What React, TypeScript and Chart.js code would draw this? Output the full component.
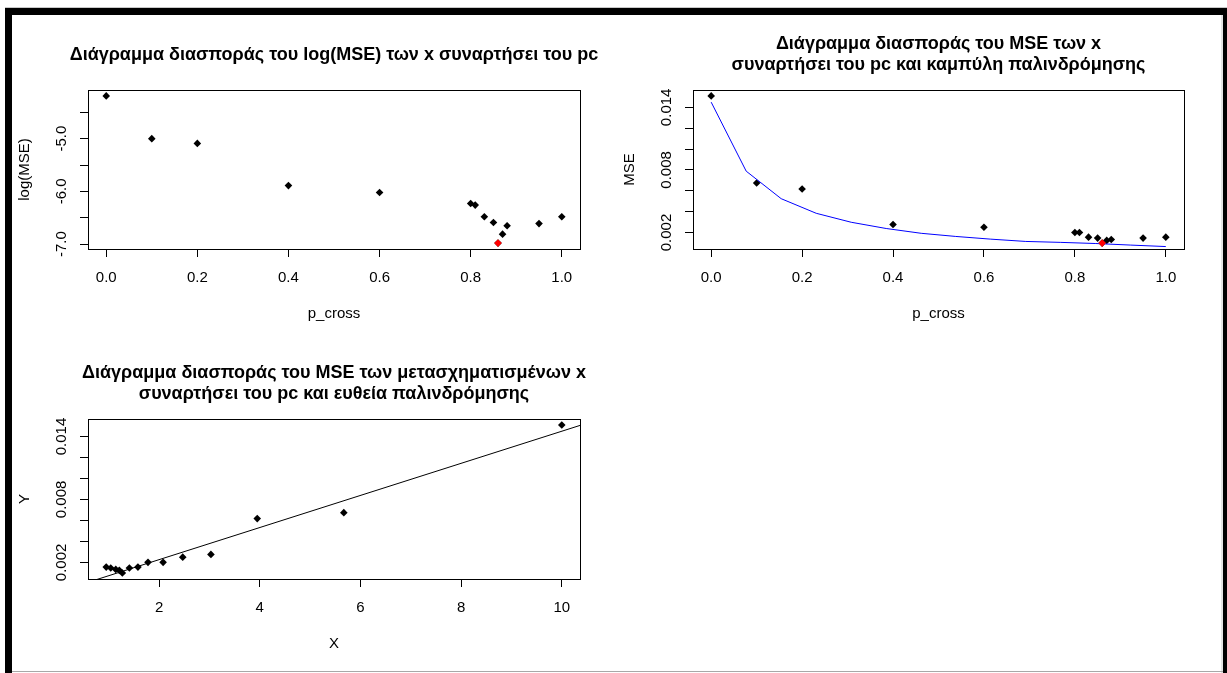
import React, { useEffect, useRef } from "react";
import { Chart, registerables } from "chart.js";

Chart.register(...registerables);

// crossover probabilities that were tried
const pCross = [0, 0.1, 0.2, 0.4, 0.6, 0.8, 0.81, 0.83, 0.85, 0.86, 0.87, 0.88, 0.95, 1.0];
// log(MSE) for each p_cross
const logMse = [-4.19, -5.0, -5.09, -5.89, -6.02, -6.23, -6.26, -6.48, -6.59, -6.98, -6.81, -6.65, -6.61, -6.48];
// MSE for each p_cross
const mse = [0.0151, 0.00674, 0.00617, 0.00276, 0.0025, 0.002, 0.002, 0.00155, 0.00146, 0.00098, 0.00124, 0.00133, 0.00146, 0.00155];
// transformed predictor X for each p_cross
const xTrans = [10, 5.67, 3.95, 3.03, 2.47, 2.08, 1.78, 1.58, 1.41, 1.27, 1.21, 1.14, 1.04, 0.95];
// fitted values of the regression, laid out on an even grid of p_cross
const curveGrid = [0, 0.077, 0.154, 0.231, 0.308, 0.385, 0.462, 0.538, 0.615, 0.692, 0.769, 0.846, 0.923, 1.0];
const curveFit = [0.0145, 0.00788, 0.00524, 0.00384, 0.00298, 0.00238, 0.00192, 0.00162, 0.00136, 0.00114, 0.00105, 0.00094, 0.00079, 0.00065];
// regression line Y = a + b X
const regIntercept = -0.0008;
const regSlope = 0.00153;

// axis ticks and their labels (empty = tick mark only)
const pTicks = [0, 0.2, 0.4, 0.6, 0.8, 1.0];
const pTickLabels = ["0.0", "0.2", "0.4", "0.6", "0.8", "1.0"];
const logTicks = [-7, -6.5, -6, -5.5, -5, -4.5];
const logTickLabels = ["-7.0", "", "-6.0", "", "-5.0", ""];
const mseTicks = [0.002, 0.004, 0.006, 0.008, 0.01, 0.012, 0.014];
const mseTickLabels = ["0.002", "", "", "0.008", "", "", "0.014"];
const xTicks = [2, 4, 6, 8, 10];
const xTickLabels = ["2", "4", "6", "8", "10"];

const FONT = '"Liberation Sans", Arial, Helvetica, sans-serif';

// R-style axis limits: data range widened by 4% on each side
const rRange = (v: number[]) => {
  const lo = Math.min(...v);
  const hi = Math.max(...v);
  const pad = (hi - lo) * 0.04;
  return [lo - pad, hi + pad];
};

const minIndex = (v: number[]) => v.indexOf(Math.min(...v));

type FrameSpec = {
  title: string[];
  titleY: number[];
  xTitle: string;
  yTitle: string;
  yTicks: number[];
  yLabels: string[];
};

// draws the plot box, main title, axis titles and the rotated y tick labels
const makeFrame = (spec: FrameSpec) => ({
  id: "rFrame",
  afterDraw(chart: any) {
    const { ctx, chartArea: a } = chart;
    const al = (p: number) => Math.round(p - 0.5) + 0.5;
    ctx.save();
    ctx.strokeStyle = "#000";
    ctx.lineWidth = 1;
    const l = al(a.left), t = al(a.top), r = al(a.right), b = al(a.bottom);
    ctx.strokeRect(l, t, r - l, b - t);

    const cx = (a.left + a.right) / 2;
    const cy = (a.top + a.bottom) / 2;
    ctx.fillStyle = "#000";
    ctx.textAlign = "center";
    ctx.textBaseline = "middle";

    ctx.font = `bold 18px ${FONT}`;
    spec.title.forEach((line, i) => ctx.fillText(line, cx, a.top + spec.titleY[i]));

    ctx.font = `15px ${FONT}`;
    ctx.fillText(spec.xTitle, cx, a.bottom + 65);

    const ys = chart.scales.y;
    spec.yTicks.forEach((v, i) => {
      const lab = spec.yLabels[i];
      if (!lab) return;
      const y = ys.getPixelForValue(v);
      ctx.save();
      ctx.translate(a.left - 26, y);
      ctx.rotate(-Math.PI / 2);
      ctx.fillText(lab, 0, 0);
      ctx.restore();
    });

    ctx.save();
    ctx.translate(a.left - 63, cy);
    ctx.rotate(-Math.PI / 2);
    ctx.fillText(spec.yTitle, 0, 0);
    ctx.restore();
    ctx.restore();
  },
});

type Box = { width: number; height: number; left: number; top: number; right: number; bottom: number };

const axisBase = {
  type: "linear" as const,
  bounds: "data" as const,
  grid: { drawOnChartArea: false, drawTicks: true, tickLength: 8, color: "#000", lineWidth: 1 },
  border: { display: true, color: "#000", width: 1 },
};

function makeConfig(
  box: Box,
  xLim: number[],
  yLim: number[],
  xT: number[],
  xL: string[],
  yT: number[],
  datasets: any[],
  frame: FrameSpec
): any {
  return {
    type: "scatter",
    data: { datasets },
    plugins: [makeFrame(frame)],
    options: {
      animation: false,
      responsive: false,
      devicePixelRatio: 1,
      events: [],
      layout: { padding: { left: 0, top: box.top, right: box.width - box.right, bottom: 0 } },
      plugins: { legend: { display: false }, tooltip: { enabled: false }, title: { display: false } },
      scales: {
        x: {
          ...axisBase,
          position: "bottom",
          min: xLim[0],
          max: xLim[1],
          afterBuildTicks: (s: any) => {
            s.ticks = xT.map((v) => ({ value: v }));
          },
          afterFit: (s: any) => {
            s.height = box.height - box.bottom;
          },
          ticks: {
            autoSkip: false,
            minRotation: 0,
            maxRotation: 0,
            padding: 12,
            color: "#000",
            font: { family: FONT, size: 15 },
            callback: (v: number) => xL[xT.indexOf(v)] ?? "",
          },
        },
        y: {
          ...axisBase,
          position: "left",
          min: yLim[0],
          max: yLim[1],
          afterBuildTicks: (s: any) => {
            s.ticks = yT.map((v) => ({ value: v }));
          },
          afterFit: (s: any) => {
            s.width = box.left;
          },
          ticks: { display: false },
        },
      },
    },
  };
}

const diamond = (color: string) => ({
  pointStyle: "rectRot",
  pointRadius: 3.8,
  backgroundColor: color,
  borderColor: color,
  borderWidth: 0,
  showLine: false,
});

function RPlot({ x, y, box, config }: { x: number; y: number; box: Box; config: () => any }) {
  const ref = useRef<HTMLCanvasElement>(null);
  useEffect(() => {
    const chart = new Chart(ref.current as HTMLCanvasElement, config());
    return () => chart.destroy();
  }, []);
  return (
    <canvas
      ref={ref}
      width={box.width}
      height={box.height}
      style={{ position: "absolute", left: x, top: y, width: box.width, height: box.height }}
    />
  );
}

const box1: Box = { width: 600, height: 330, left: 76, top: 75, right: 568, bottom: 234 };
const box2: Box = { width: 600, height: 330, left: 81, top: 75, right: 572, bottom: 234 };
const box3: Box = { width: 600, height: 328, left: 76, top: 74, right: 568, bottom: 234 };

const best = minIndex(mse);
const pLim = rRange(pCross);
const mseLim = rRange(mse);
const xLim = rRange(xTrans);

const cfgLog = () =>
  makeConfig(
    box1,
    pLim,
    rRange(logMse),
    pTicks,
    pTickLabels,
    logTicks,
    [
      { ...diamond("#FF0000"), data: [{ x: pCross[minIndex(logMse)], y: logMse[minIndex(logMse)] }] },
      { ...diamond("#000000"), data: pCross.map((p, i) => ({ x: p, y: logMse[i] })) },
    ],
    {
      title: ["Διάγραμμα διασποράς του log(MSE) των x συναρτήσει του pc"],
      titleY: [-35],
      xTitle: "p_cross",
      yTitle: "log(MSE)",
      yTicks: logTicks,
      yLabels: logTickLabels,
    }
  );

const cfgMse = () =>
  makeConfig(
    box2,
    pLim,
    mseLim,
    pTicks,
    pTickLabels,
    mseTicks,
    [
      { ...diamond("#FF0000"), data: [{ x: pCross[best], y: mse[best] }] },
      {
        data: curveGrid.map((g, i) => ({ x: g, y: curveFit[i] })),
        showLine: true,
        borderColor: "#0000FF",
        borderWidth: 1,
        pointRadius: 0,
        tension: 0,
        fill: false,
      },
      { ...diamond("#000000"), data: pCross.map((p, i) => ({ x: p, y: mse[i] })) },
    ],
    {
      title: ["Διάγραμμα διασποράς του MSE των x", "συναρτήσει του pc και καμπύλη παλινδρόμησης"],
      titleY: [-46, -24.5],
      xTitle: "p_cross",
      yTitle: "MSE",
      yTicks: mseTicks,
      yLabels: mseTickLabels,
    }
  );

const cfgLin = () =>
  makeConfig(
    box3,
    xLim,
    mseLim,
    xTicks,
    xTickLabels,
    mseTicks,
    [
      {
        data: xLim.map((v) => ({ x: v, y: regIntercept + regSlope * v })),
        showLine: true,
        borderColor: "#000000",
        borderWidth: 1,
        pointRadius: 0,
        tension: 0,
        fill: false,
      },
      { ...diamond("#000000"), data: xTrans.map((v, i) => ({ x: v, y: mse[i] })) },
    ],
    {
      title: ["Διάγραμμα διασποράς του MSE των μετασχηματισμένων x", "συναρτήσει του pc και ευθεία παλινδρόμησης"],
      titleY: [-46, -24.5],
      xTitle: "X",
      yTitle: "Y",
      yTicks: mseTicks,
      yLabels: mseTickLabels,
    }
  );

export default function App() {
  const band = (s: React.CSSProperties): React.CSSProperties => ({ position: "absolute", ...s });
  return (
    <div
      style={{
        position: "absolute",
        left: 0,
        top: 0,
        width: 1227,
        height: 673,
        background: "#fff",
        overflow: "hidden",
      }}
    >
      <RPlot x={12} y={15} box={box1} config={cfgLog} />
      <RPlot x={612} y={15} box={box2} config={cfgMse} />
      <RPlot x={12} y={345} box={box3} config={cfgLin} />
      <div style={band({ left: 5, top: 7, width: 1222, height: 1, background: "#c8c8c8" })} />
      <div style={band({ left: 5, top: 8, width: 1222, height: 7, background: "#000" })} />
      <div style={band({ left: 5, top: 8, width: 7, height: 665, background: "#000" })} />
      <div style={band({ left: 1223, top: 8, width: 4, height: 665, background: "#000" })} />
      <div style={band({ left: 1221, top: 15, width: 2, height: 658, background: "#e4e4e4" })} />
      <div style={band({ left: 12, top: 671, width: 1211, height: 1, background: "#a8a8a8" })} />
    </div>
  );
}
